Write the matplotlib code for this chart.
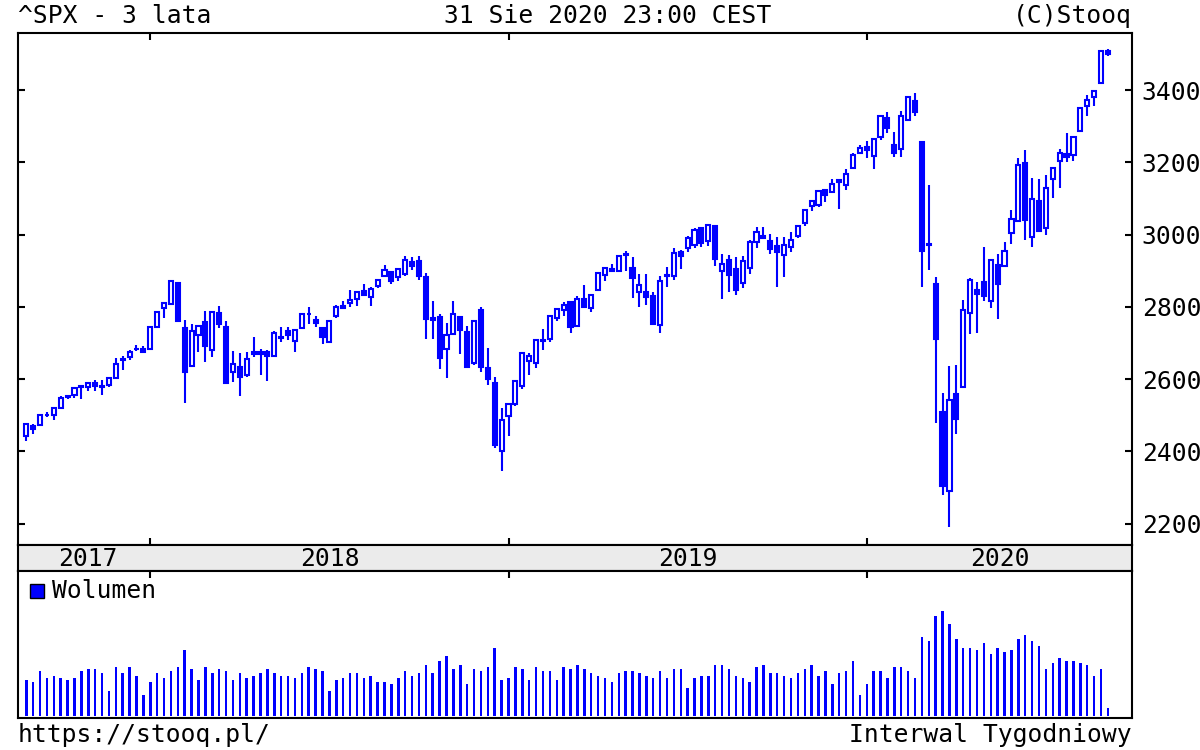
# -*- coding: utf-8 -*-
import numpy as np
import matplotlib
matplotlib.use("Agg")
import matplotlib.pyplot as plt
from matplotlib.patches import Rectangle

plt.rcParams['font.family'] = ['DejaVu Sans Mono', 'DejaVu Sans']

# tygodniowe swiece ^SPX (koniec tygodnia), wrzesien 2017 - sierpien 2020
weeks = [
    "2017-09-01", "2017-09-08", "2017-09-15", "2017-09-22", "2017-09-29", "2017-10-06", "2017-10-13",
    "2017-10-20", "2017-10-27", "2017-11-03", "2017-11-10", "2017-11-17", "2017-11-24", "2017-12-01",
    "2017-12-08", "2017-12-15", "2017-12-22", "2017-12-29",
    "2018-01-05", "2018-01-12", "2018-01-19", "2018-01-26", "2018-02-02", "2018-02-09", "2018-02-16",
    "2018-02-23", "2018-03-02", "2018-03-09", "2018-03-16", "2018-03-23", "2018-03-30", "2018-04-06",
    "2018-04-13", "2018-04-20", "2018-04-27", "2018-05-04", "2018-05-11", "2018-05-18", "2018-05-25",
    "2018-06-01", "2018-06-08", "2018-06-15", "2018-06-22", "2018-06-29", "2018-07-06", "2018-07-13",
    "2018-07-20", "2018-07-27", "2018-08-03", "2018-08-10", "2018-08-17", "2018-08-24", "2018-08-31",
    "2018-09-07", "2018-09-14", "2018-09-21", "2018-09-28", "2018-10-05", "2018-10-12", "2018-10-19",
    "2018-10-26", "2018-11-02", "2018-11-09", "2018-11-16", "2018-11-23", "2018-11-30", "2018-12-07",
    "2018-12-14", "2018-12-21", "2018-12-28",
    "2019-01-04", "2019-01-11", "2019-01-18", "2019-01-25", "2019-02-01", "2019-02-08", "2019-02-15",
    "2019-02-22", "2019-03-01", "2019-03-08", "2019-03-15", "2019-03-22", "2019-03-29", "2019-04-05",
    "2019-04-12", "2019-04-18", "2019-04-26", "2019-05-03", "2019-05-10", "2019-05-17", "2019-05-24",
    "2019-05-31", "2019-06-07", "2019-06-14", "2019-06-21", "2019-06-28", "2019-07-05", "2019-07-12",
    "2019-07-19", "2019-07-26", "2019-08-02", "2019-08-09", "2019-08-16", "2019-08-23", "2019-08-30",
    "2019-09-06", "2019-09-13", "2019-09-20", "2019-09-27", "2019-10-04", "2019-10-11", "2019-10-18",
    "2019-10-25", "2019-11-01", "2019-11-08", "2019-11-15", "2019-11-22", "2019-11-29", "2019-12-06",
    "2019-12-13", "2019-12-20", "2019-12-27",
    "2020-01-03", "2020-01-10", "2020-01-17", "2020-01-24", "2020-01-31", "2020-02-07", "2020-02-14",
    "2020-02-21", "2020-02-28", "2020-03-06", "2020-03-13", "2020-03-20", "2020-03-27", "2020-04-03",
    "2020-04-09", "2020-04-17", "2020-04-24", "2020-05-01", "2020-05-08", "2020-05-15", "2020-05-22",
    "2020-05-29", "2020-06-05", "2020-06-12", "2020-06-19", "2020-06-26", "2020-07-02", "2020-07-10",
    "2020-07-17", "2020-07-24", "2020-07-31", "2020-08-07", "2020-08-14", "2020-08-21", "2020-08-28",
    "2020-09-04",
]

opens = [
    2442, 2470, 2474, 2502, 2500, 2521, 2551, 2555, 2578, 2577, 2588, 2580, 2583, 2603, 2657, 2660, 2684, 2683,
    2684, 2745, 2798, 2809, 2867, 2741, 2636, 2722, 2757, 2681, 2782, 2745, 2619, 2633, 2611, 2676, 2675, 2675,
    2665, 2718, 2734, 2706, 2742, 2781, 2765, 2742, 2704, 2775, 2797, 2811, 2822, 2845, 2827, 2858, 2885, 2896,
    2882, 2890, 2924, 2926, 2882, 2763, 2773, 2683, 2726, 2773, 2730, 2645, 2790, 2630, 2590, 2400,
    2498, 2532, 2580, 2651, 2644, 2706, 2712, 2769, 2792, 2814, 2747, 2822, 2796, 2848, 2888, 2900, 2898, 2943,
    2909, 2840, 2841, 2830, 2751, 2886, 2886, 2952, 2964, 2970, 3018, 2981, 3024, 2898, 2930, 2905, 2866, 2909,
    2980, 2996, 2983, 2968, 2944, 2965, 2996, 3032, 3078, 3081, 3123, 3117, 3150, 3138, 3183, 3227,
    3243, 3218, 3271, 3323, 3248, 3236, 3318, 3369, 3257, 2975, 2863, 2509, 2290, 2559, 2578, 2782, 2846, 2869,
    2815, 2915, 2914, 3004, 3038, 3199, 2994, 3094, 3018, 3155, 3205, 3224, 3219, 3288, 3356, 3381, 3419, 3509,
]
highs = [
    2480, 2475, 2500, 2509, 2520, 2552, 2557, 2575, 2582, 2588, 2597, 2597, 2605, 2658, 2665, 2680, 2695, 2692,
    2743, 2787, 2811, 2873, 2870, 2763, 2754, 2748, 2789, 2787, 2802, 2762, 2679, 2672, 2675, 2718, 2683, 2682,
    2732, 2743, 2743, 2736, 2779, 2801, 2775, 2743, 2760, 2804, 2816, 2848, 2841, 2863, 2856, 2877, 2916, 2900,
    2906, 2941, 2939, 2940, 2894, 2817, 2779, 2756, 2815, 2776, 2747, 2760, 2800, 2685, 2607, 2520,
    2535, 2597, 2675, 2673, 2708, 2738, 2775, 2795, 2814, 2817, 2830, 2861, 2836, 2893, 2910, 2918, 2940, 2955,
    2939, 2892, 2892, 2841, 2885, 2911, 2964, 2958, 2996, 3017, 3018, 3028, 3027, 2945, 2943, 2939, 2941, 2985,
    3021, 3022, 3002, 2993, 2993, 3008, 3027, 3067, 3097, 3120, 3127, 3154, 3154, 3182, 3226, 3247,
    3259, 3267, 3329, 3338, 3285, 3341, 3385, 3393, 3259, 3137, 2882, 2563, 2637, 2640, 2819, 2880, 2868, 2965,
    2932, 2945, 2980, 3068, 3211, 3233, 3156, 3155, 3165, 3185, 3236, 3280, 3272, 3352, 3387, 3399, 3509, 3514,
]
lows = [
    2428, 2447, 2474, 2496, 2488, 2520, 2545, 2547, 2544, 2566, 2566, 2557, 2577, 2600, 2624, 2653, 2677, 2673,
    2682, 2745, 2768, 2808, 2759, 2533, 2635, 2675, 2647, 2662, 2741, 2586, 2593, 2553, 2605, 2660, 2612, 2594,
    2662, 2702, 2708, 2675, 2740, 2752, 2743, 2698, 2699, 2770, 2796, 2799, 2802, 2830, 2802, 2853, 2884, 2864,
    2873, 2886, 2903, 2874, 2710, 2710, 2628, 2604, 2722, 2670, 2631, 2640, 2621, 2584, 2409, 2347,
    2444, 2525, 2574, 2612, 2631, 2682, 2704, 2760, 2775, 2729, 2744, 2800, 2785, 2848, 2873, 2897, 2898, 2900,
    2825, 2801, 2805, 2750, 2728, 2855, 2874, 2906, 2953, 2963, 2967, 2969, 2914, 2822, 2840, 2834, 2853, 2891,
    2964, 2990, 2945, 2856, 2883, 2952, 2992, 3024, 3066, 3077, 3091, 3115, 3070, 3124, 3183, 3224,
    3212, 3182, 3263, 3280, 3214, 3214, 3315, 3327, 2856, 2902, 2478, 2280, 2192, 2447, 2575, 2725, 2727, 2816,
    2797, 2767, 2914, 2975, 3038, 2984, 2965, 3010, 3000, 3102, 3128, 3200, 3205, 3284, 3329, 3355, 3419, 3494,
]
closes = [
    2477, 2461, 2500, 2502, 2519, 2549, 2553, 2575, 2581, 2588, 2582, 2579, 2603, 2642, 2652, 2676, 2683, 2674,
    2743, 2786, 2810, 2873, 2762, 2620, 2732, 2747, 2691, 2786, 2752, 2588, 2641, 2605, 2656, 2670, 2670, 2663,
    2728, 2713, 2721, 2735, 2779, 2780, 2755, 2718, 2760, 2801, 2802, 2819, 2840, 2833, 2850, 2875, 2902, 2872,
    2905, 2930, 2914, 2886, 2767, 2768, 2659, 2723, 2781, 2736, 2633, 2760, 2633, 2600, 2417, 2486,
    2532, 2596, 2671, 2665, 2707, 2708, 2775, 2793, 2804, 2743, 2822, 2800, 2834, 2893, 2907, 2905, 2940, 2946,
    2881, 2860, 2826, 2752, 2873, 2887, 2950, 2942, 2990, 3014, 2977, 3026, 2932, 2919, 2889, 2847, 2926, 2979,
    3007, 2992, 2961, 2952, 2970, 2986, 3023, 3067, 3093, 3120, 3110, 3141, 3146, 3169, 3221, 3240,
    3235, 3265, 3329, 3295, 3226, 3328, 3380, 3338, 2954, 2972, 2711, 2305, 2541, 2489, 2790, 2875, 2837, 2831,
    2930, 2864, 2955, 3044, 3194, 3041, 3098, 3009, 3130, 3185, 3225, 3216, 3271, 3351, 3373, 3397, 3508, 3500,
]

# wolumen (wzgledny)
volumes = [
    36, 34, 45, 38, 40, 38, 36, 38, 45, 47, 47, 43, 25, 49, 43, 49, 40, 21,
    34, 43, 38, 45, 49, 66, 47, 36, 49, 43, 47, 45, 36, 43, 38, 40, 43, 47,
    43, 40, 40, 38, 43, 49, 47, 45, 25, 36, 38, 43, 43, 38, 40, 34, 34, 32,
    38, 45, 40, 43, 51, 43, 55, 60, 47, 51, 32, 47, 45, 49, 68, 36,
    38, 49, 47, 36, 49, 45, 45, 36, 49, 47, 51, 47, 43, 40, 38, 34, 43, 45,
    45, 43, 40, 38, 45, 38, 47, 47, 28, 38, 40, 40, 51, 51, 47, 40, 38, 34,
    49, 51, 43, 43, 40, 38, 43, 47, 51, 40, 45, 32, 43, 45, 55, 21,
    32, 45, 45, 38, 49, 49, 45, 38, 79, 75, 100, 105, 92, 77, 68, 68, 66, 73,
    62, 68, 64, 66, 77, 81, 75, 70, 47, 53, 58, 55, 55, 53, 51, 40, 47, 8,
]

years = ["2017", "2018", "2019", "2020"]
price_ticks = [2200, 2400, 2600, 2800, 3000, 3200, 3400]

BLUE = '#0000ff'
FS = 17.7

x = np.arange(len(weeks))
year_of = np.array([w[:4] for w in weeks])
# pierwszy tydzien kazdego roku -> znacznik na osi
year_starts = [int(np.argmax(year_of == y)) for y in years[1:]]

fig = plt.figure(figsize=(12, 7.5), dpi=100)
W, H = 1200.0, 750.0
left, right = 18 / W, 1132 / W
ax = fig.add_axes([left, 1 - 545 / H, right - left, (545 - 33) / H])
band = fig.add_axes([left, 1 - 571 / H, right - left, 26 / H])
axv = fig.add_axes([left, 1 - 718 / H, right - left, (718 - 571) / H])

xlim = (-1.2, 160.5)

# swiece
for i in x:
    o, h, l, c = opens[i], highs[i], lows[i], closes[i]
    ax.vlines(i, l, h, color=BLUE, lw=1.5, zorder=1)
    up = c >= o
    ax.add_patch(Rectangle((i - 0.3, min(o, c)), 0.6, abs(c - o),
                           facecolor='white' if up else BLUE, edgecolor=BLUE,
                           lw=1.5, zorder=2))

ax.set_xlim(*xlim)
ax.set_ylim(2141, 3558)
ax.set_yticks(price_ticks)
ax.yaxis.tick_right()
ax.tick_params(axis='y', which='both', direction='in', length=5, width=1.5,
               left=True, right=True, labelleft=False, labelright=True,
               labelsize=FS, pad=7)
ax.set_xticks(year_starts)
ax.tick_params(axis='x', direction='in', length=5, width=1.5, top=True, bottom=True,
               labelbottom=False)
for s in ax.spines.values():
    s.set_linewidth(1.5)

# pasek z latami
band.set_facecolor('#ebebeb')
band.set_xlim(*xlim)
band.set_ylim(0, 1)
band.set_xticks([])
band.set_yticks([])
for s in band.spines.values():
    s.set_linewidth(1.5)
edges = [0] + year_starts + [xlim[1]]
for k, y in enumerate(years):
    band.text((edges[k] + edges[k + 1]) / 2, 0.45, y, ha='center', va='center', fontsize=FS)

# wolumen
axv.bar(x, volumes, width=0.36, color=BLUE)
axv.set_xlim(*xlim)
axv.set_ylim(-2, 145)
axv.set_yticks([])
axv.set_xticks(year_starts)
axv.tick_params(axis='x', direction='in', length=5, width=1.5, top=True, bottom=False,
                labelbottom=False)
for s in axv.spines.values():
    s.set_linewidth(1.5)
axv.add_patch(Rectangle((12 / 1114, 0.815), 14 / 1114, 0.095, transform=axv.transAxes,
                        facecolor=BLUE, edgecolor='black', lw=1, clip_on=False))
axv.text(34 / 1114, 0.865, "Wolumen", transform=axv.transAxes, ha='left', va='center',
         fontsize=FS)

# napisy
fig.text(left, 1 - 16 / H, "^SPX - 3 lata", ha='left', va='center', fontsize=FS)
fig.text(608 / W, 1 - 16 / H, "31 Sie 2020 23:00 CEST", ha='center', va='center', fontsize=FS)
fig.text(right, 1 - 16 / H, "(C)Stooq", ha='right', va='center', fontsize=FS)
fig.text(left, 1 - 735 / H, "https://stooq.pl/", ha='left', va='center', fontsize=FS)
fig.text(right, 1 - 735 / H, "Interwal Tygodniowy", ha='right', va='center', fontsize=FS)

fig.savefig("out.png", dpi=100, facecolor='white')
